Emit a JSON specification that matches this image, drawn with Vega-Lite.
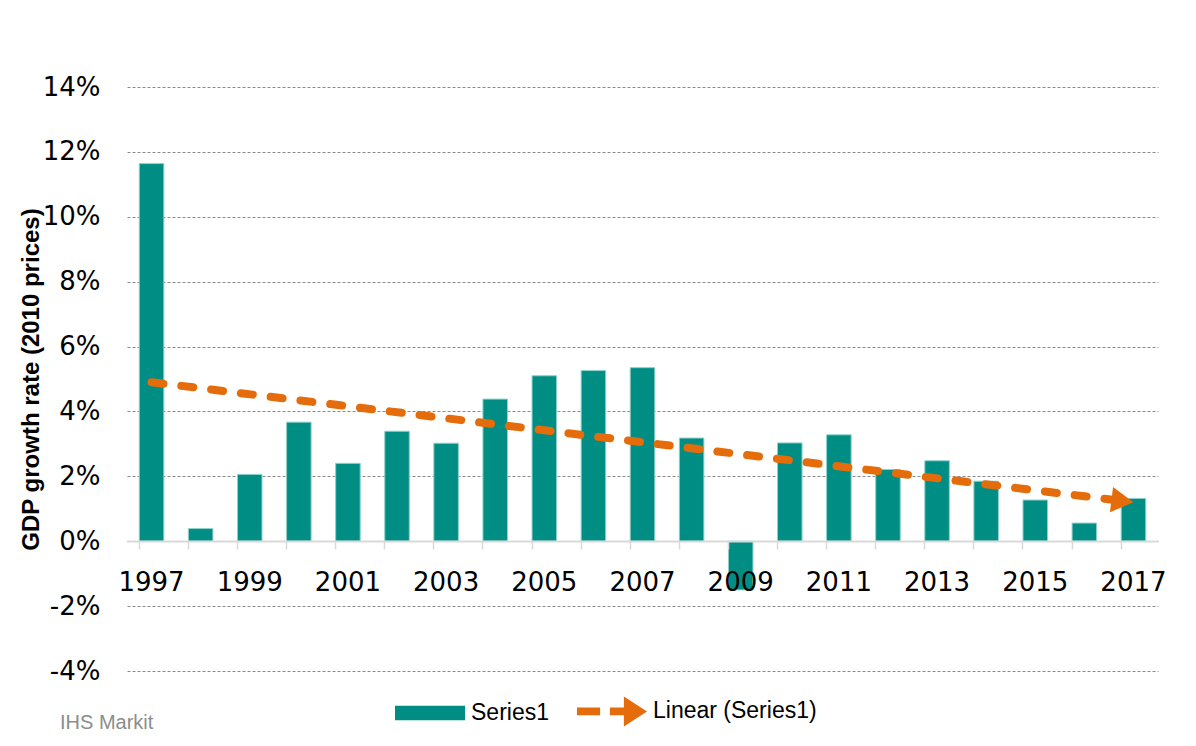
{
  "$schema": "https://vega.github.io/schema/vega-lite/v6.json",
  "width": 1031,
  "height": 584,
  "autosize": {"type": "none"},
  "padding": {"left": 127, "top": 87, "right": 38, "bottom": 75},
  "background": "white",
  "title": {"text": "IHS Markit", "orient": "bottom", "anchor": "start", "frame": "group", "fontSize": 20, "font": "Liberation Sans", "fontWeight": "normal", "color": "#8c8c8c", "dx": -67, "offset": -14},
  "config": {"view": {"stroke": null}, "font": "DejaVu Sans"},
  "layer": [
    {
      "data": {"values": [
        {"year": 1997, "value": 11.64},
        {"year": 1998, "value": 0.39},
        {"year": 1999, "value": 2.06},
        {"year": 2000, "value": 3.67},
        {"year": 2001, "value": 2.4},
        {"year": 2002, "value": 3.39},
        {"year": 2003, "value": 3.02},
        {"year": 2004, "value": 4.38},
        {"year": 2005, "value": 5.1},
        {"year": 2006, "value": 5.26},
        {"year": 2007, "value": 5.35},
        {"year": 2008, "value": 3.18},
        {"year": 2009, "value": -1.5},
        {"year": 2010, "value": 3.03},
        {"year": 2011, "value": 3.28},
        {"year": 2012, "value": 2.21},
        {"year": 2013, "value": 2.48},
        {"year": 2014, "value": 1.85},
        {"year": 2015, "value": 1.27},
        {"year": 2016, "value": 0.56},
        {"year": 2017, "value": 1.32}
      ]},
      "mark": {"type": "bar", "color": "#008E84", "stroke": "#8fd0ca", "strokeWidth": 1},
      "encoding": {
        "x": {
          "field": "year", "type": "ordinal",
          "scale": {"paddingInner": 0.5, "paddingOuter": 0.25},
          "axis": {
            "title": null, "offset": -130, "bandPosition": 0,
            "labelExpr": "datum.value % 2 == 1 ? datum.label : ''",
            "labelFontSize": 26, "labelFont": "DejaVu Sans", "labelColor": "#000000",
            "labelPadding": 20, "labelAngle": 0, "labelOverlap": false,
            "ticks": true, "tickSize": 8, "tickColor": "#d9d9d9", "tickWidth": 1.5,
            "domain": true, "domainColor": "#d9d9d9", "domainWidth": 2, "grid": false, "zindex": 1
          }
        },
        "y": {
          "field": "value", "type": "quantitative",
          "scale": {"domain": [-4, 14], "nice": false, "zero": false},
          "axis": {
            "values": [-4, -2, 0, 2, 4, 6, 8, 10, 12, 14],
            "labelExpr": "datum.value + '%'",
            "labelFontSize": 26, "labelFont": "DejaVu Sans", "labelColor": "#000000",
            "labelPadding": 27, "ticks": false, "tickSize": 0, "domain": false,
            "grid": true, "gridColor": "#8a8a8a", "gridDash": [3, 2], "gridWidth": 1,
            "title": "GDP growth rate (2010 prices)",
            "titleFont": "Liberation Sans", "titleFontSize": 24, "titleFontWeight": "bold",
            "titleColor": "#000000", "titleX": -89, "titleBaseline": "alphabetic"
          }
        }
      }
    },
    {
      "data": {"values": [
        {"year": 1997, "value": 4.9},
        {"year": 2017, "value": 1.2}
      ]},
      "mark": {"type": "line", "color": "#E46C0A", "strokeWidth": 8, "strokeDash": [12, 18], "strokeCap": "round"},
      "encoding": {
        "x": {"field": "year", "type": "ordinal"},
        "y": {"field": "value", "type": "quantitative"}
      }
    },
    {
      "data": {"values": [
        {"year": 2017, "value": 1.2}
      ]},
      "mark": {"type": "point", "shape": "triangle-right", "filled": true, "color": "#E46C0A", "opacity": 1, "size": 650, "angle": 7, "xOffset": -11, "yOffset": -1.3},
      "encoding": {
        "x": {"field": "year", "type": "ordinal"},
        "y": {"field": "value", "type": "quantitative"}
      }
    },
    {
      "data": {"values": [
        {"series": "Series1"},
        {"series": "Linear (Series1)"}
      ]},
      "transform": [{"filter": "datum.series == 'none'"}],
      "mark": {"type": "point", "filled": true, "opacity": 1, "strokeWidth": 0},
      "encoding": {
        "color": {
          "field": "series", "type": "nominal",
          "scale": {"domain": ["Series1", "Linear (Series1)"], "range": ["#008E84", "#E46C0A"]},
          "legend": {
            "title": null, "orient": "none", "direction": "horizontal", "legendX": 268, "legendY": 589,
            "symbolSize": 4900, "symbolStrokeWidth": 0, "symbolOpacity": 1,
            "labelFont": "Liberation Sans", "labelFontSize": 23, "labelColor": "#000000",
            "labelOffset": 6, "columnPadding": 28, "labelLimit": 400
          }
        },
        "shape": {
          "field": "series", "type": "nominal",
          "scale": {"domain": ["Series1", "Linear (Series1)"], "range": [
            "M-1,-0.21H1V0.21H-1Z",
            "M-1,-0.11H-0.34V0.11H-1Z M-0.06,-0.11H0.4V0.11H-0.06Z M0.34,-0.43L1,0L0.34,0.43Z"
          ]}
        }
      }
    }
  ]
}
